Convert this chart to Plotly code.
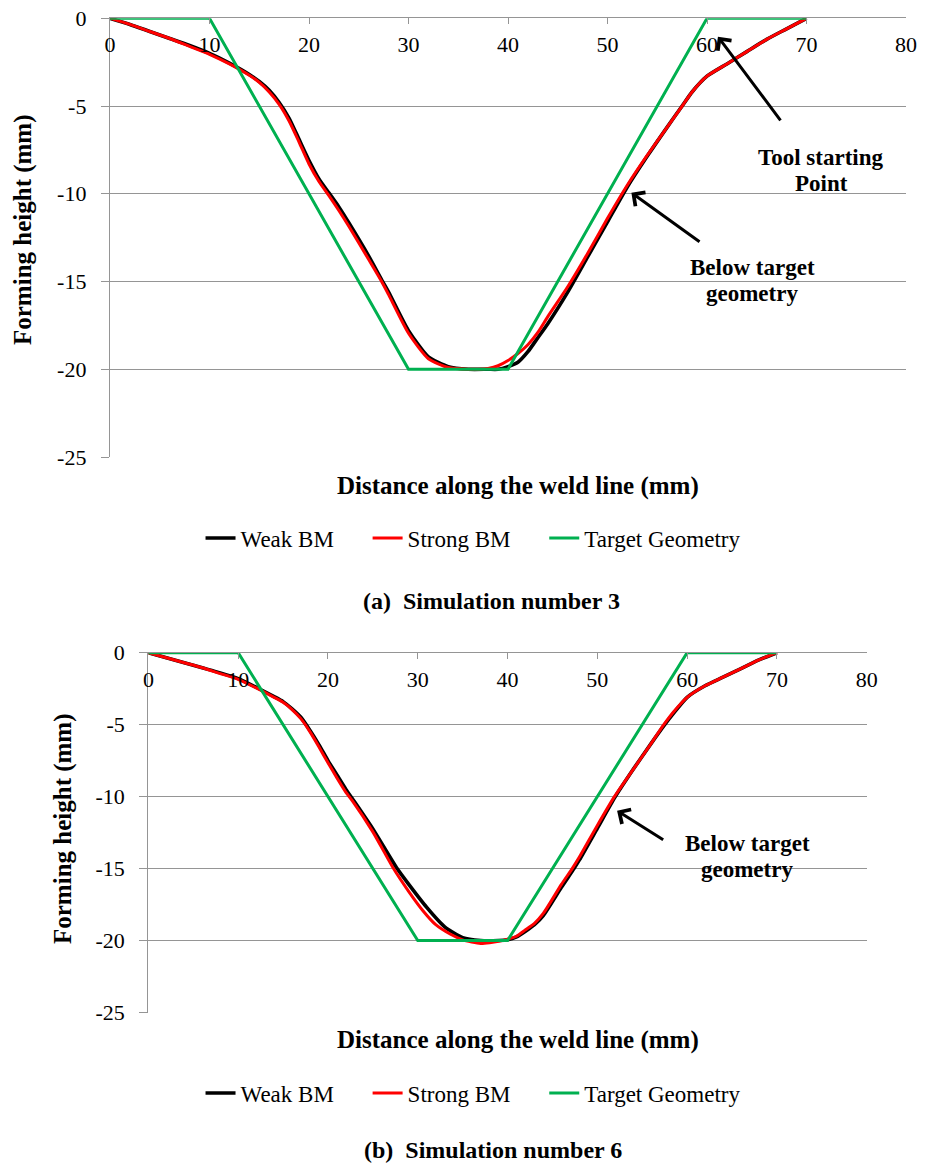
import plotly.graph_objects as go

# ---- data -------------------------------------------------------------
# Target geometry (same for both simulations)
target_x = [0, 10, 30, 40, 60, 70]
target_y = [0, 0, -20, -20, 0, 0]

# (a) Simulation number 3
sim3_weak_x = [0, 2, 4, 6, 8, 10, 12, 14, 15, 16, 17, 18, 19, 20, 21, 22, 23, 24, 26, 27.4, 28, 30, 32, 34,
               36, 38, 39, 40, 41, 42, 43, 44, 46, 48, 50, 52, 54, 56, 57.5, 58.5, 60, 62, 64, 66, 68, 70]
sim3_weak_y = [0, -0.35, -0.75, -1.15, -1.55, -2.0, -2.55, -3.2, -3.6, -4.1, -4.8, -5.7, -6.9, -8.1, -9.15,
               -9.95, -10.75, -11.65, -13.55, -15.0, -15.6, -17.8, -19.3, -19.85, -20.0, -20.0, -20.0, -19.85,
               -19.6, -19.0, -18.2, -17.4, -15.6, -13.6, -11.6, -9.6, -7.85, -6.2, -5.0, -4.2, -3.3, -2.6,
               -1.9, -1.2, -0.6, 0]
sim3_strong_x = [0, 2, 4, 6, 8, 10, 12, 14, 15, 16, 17, 18, 19, 20, 21, 22, 23, 24, 26, 27.3, 28, 30, 32, 34,
                 36, 37, 38, 39, 40, 41, 42, 43, 44, 46, 48, 50, 52, 54, 56, 57.5, 58.5, 60, 62, 64, 66, 68, 70]
sim3_strong_y = [0, -0.35, -0.75, -1.15, -1.6, -2.05, -2.6, -3.25, -3.65, -4.2, -4.9, -5.85, -7.05, -8.3,
                 -9.3, -10.1, -10.95, -11.85, -13.75, -15.0, -15.75, -17.95, -19.4, -19.9, -20.0, -20.0,
                 -19.95, -19.8, -19.5, -19.1, -18.6, -17.9, -17.0, -15.3, -13.4, -11.4, -9.5, -7.8, -6.2,
                 -5.0, -4.2, -3.3, -2.6, -1.9, -1.2, -0.6, 0]

# (b) Simulation number 6
sim6_weak_x = [0, 2, 4, 6, 8, 10, 12, 14, 15, 16, 17, 18, 19, 20, 21, 22, 23, 25, 27.7, 29, 31, 33, 35, 37,
               39, 40, 41, 42, 43, 44, 46, 47.4, 48, 50, 52, 54, 56, 57.5, 58.5, 60, 62, 64, 66, 68, 70]
sim6_weak_y = [0, -0.35, -0.7, -1.05, -1.4, -1.8, -2.4, -3.05, -3.4, -3.9, -4.5, -5.4, -6.4, -7.5, -8.5,
               -9.5, -10.4, -12.25, -15.0, -16.1, -17.7, -19.05, -19.8, -20.0, -20.0, -19.95, -19.75,
               -19.35, -18.9, -18.25, -16.3, -15.0, -14.4, -12.2, -10.0, -8.1, -6.3, -5.0, -4.2, -3.1,
               -2.3, -1.7, -1.1, -0.5, 0]
sim6_strong_x = [0, 2, 4, 6, 8, 10, 12, 14, 15, 16, 17, 18, 19, 20, 21, 22, 22.7, 25, 27.3, 29, 30.6, 32,
                 33.6, 35, 37, 38, 39, 40, 41, 42, 43, 44, 46, 47.2, 48, 50, 51.9, 54, 56, 57.4, 58.5, 60,
                 62, 64, 66, 68, 70]
sim6_strong_y = [0, -0.35, -0.7, -1.05, -1.45, -1.85, -2.45, -3.1, -3.45, -3.95, -4.6, -5.5, -6.55, -7.65,
                 -8.7, -9.7, -10.28, -12.45, -15.0, -16.6, -17.95, -18.9, -19.55, -19.95, -20.2, -20.15,
                 -20.05, -19.9, -19.7, -19.25, -18.8, -18.1, -16.1, -15.0, -14.2, -12.0, -10.0, -8.1,
                 -6.3, -5.0, -4.1, -3.1, -2.3, -1.7, -1.1, -0.5, 0]

series_names = ["Weak BM", "Strong BM", "Target Geometry"]
x_ticks = [0, 10, 20, 30, 40, 50, 60, 70, 80]
x_tick_labels = ["0", "10", "20", "30", "40", "50", "60", "70", "80"]
y_ticks = [0, -5, -10, -15, -20, -25]
y_tick_labels = ["0", "-5", "-10", "-15", "-20", "-25"]

# ---- styling ----------------------------------------------------------
SERIF = "Liberation Serif, Times New Roman, serif"
GRID = "#959595"
COLORS = ["#000000", "#ff0000", "#00b050"]
WIDTHS = [3.6, 3.0, 3.0]
NBSP = "\u00a0"

W, H = 933, 1167


def px_x(p):
    return p / W


def px_y(p):
    return 1 - p / H


fig = go.Figure()

panels = [
    ("x", "y", "legend", [(sim3_weak_x, sim3_weak_y), (sim3_strong_x, sim3_strong_y), (target_x, target_y)]),
    ("x2", "y2", "legend2", [(sim6_weak_x, sim6_weak_y), (sim6_strong_x, sim6_strong_y), (target_x, target_y)]),
]

for xa, ya, leg, series in panels:
    for i, (xs, ys) in enumerate(series):
        shape = "linear" if i == 2 else "spline"
        # a little trailing space widens the gap between legend entries
        label = series_names[i] + (NBSP * 5 if i < 2 else "")
        fig.add_trace(go.Scatter(
            x=xs, y=ys, mode="lines", name=label,
            line=dict(color=COLORS[i], width=WIDTHS[i], shape=shape, smoothing=0.6),
            xaxis=xa, yaxis=ya, legend=leg,
        ))

# horizontal axis sits on the zero line at the top, labels hang just below it
xaxis_style = dict(
    range=[0, 80], tickvals=x_ticks, ticktext=x_tick_labels, side="top", automargin=False,
    showline=True, linecolor=GRID, linewidth=1.3,
    ticks="inside", ticklen=6, tickcolor=GRID, ticklabelposition="outside", ticklabelstandoff=-44,
    showgrid=False, zeroline=False, tickfont=dict(family=SERIF, size=22, color="black"),
)
yaxis_style = dict(
    range=[-25, 0], tickvals=y_ticks, ticktext=y_tick_labels, automargin=False,
    showline=True, linecolor=GRID, linewidth=1.3,
    ticks="outside", ticklen=8, tickcolor=GRID, ticklabelstandoff=10,
    showgrid=True, gridcolor=GRID, gridwidth=1.3, zeroline=False,
    tickfont=dict(family=SERIF, size=22, color="black"),
)

legend_style = dict(orientation="h", x=0.507, xanchor="center", yanchor="middle",
                    font=dict(family=SERIF, size=23, color="black"), bgcolor="rgba(0,0,0,0)")

fig.update_layout(
    width=W, height=H, autosize=False,
    margin=dict(l=0, r=0, t=0, b=0, autoexpand=False),
    paper_bgcolor="white", plot_bgcolor="white",
    xaxis=dict(domain=[px_x(110), px_x(906)], anchor="y", **xaxis_style),
    yaxis=dict(domain=[px_y(457), px_y(18.3)], anchor="x", **yaxis_style),
    xaxis2=dict(domain=[px_x(148.4), px_x(866.7)], anchor="y2", **xaxis_style),
    yaxis2=dict(domain=[px_y(1012.5), px_y(652.7)], anchor="x2", **yaxis_style),
    legend=dict(y=px_y(538), **legend_style),
    legend2=dict(y=px_y(1093), **legend_style),
)

bold = dict(family=SERIF, color="black")

# axis titles, captions and call-out labels
text_items = [
    ("<b>Forming height (mm)</b>", px_x(23), px_y(230), 25, -90),
    ("<b>Forming height (mm)</b>", px_x(63), px_y(829), 25, -90),
    ("<b>Distance along the weld line (mm)</b>", px_x(518), px_y(486), 25, 0),
    ("<b>Distance along the weld line (mm)</b>", px_x(518), px_y(1040), 25, 0),
    ("<b>(a)  Simulation number 3</b>", px_x(492), px_y(601), 24, 0),
    ("<b>(b)  Simulation number 6</b>", px_x(493), px_y(1150), 24, 0),
    ("<b>Tool starting</b>", px_x(821), px_y(157), 23, 0),
    ("<b>Point</b>", px_x(821), px_y(183), 23, 0),
    ("<b>Below target</b>", px_x(752), px_y(267), 23, 0),
    ("<b>geometry</b>", px_x(752), px_y(293), 23, 0),
    ("<b>Below target</b>", px_x(747), px_y(843), 23, 0),
    ("<b>geometry</b>", px_x(747), px_y(869), 23, 0),
]
for txt, x, y, size, angle in text_items:
    fig.add_annotation(text=txt, x=x, y=y, xref="paper", yref="paper", showarrow=False,
                       xanchor="center", yanchor="middle", textangle=angle,
                       font=dict(size=size, **bold))

# pointer arrows (head on the curve, tail toward the label)
arrows = [
    ("x", "y", 61.1, -1.05, 67.5, -5.9),
    ("x", "y", 52.4, -9.94, 59.4, -12.8),
    ("x2", "y2", 52.2, -10.98, 57.5, -13.07),
]
for xr, yr, hx, hy, tx, ty in arrows:
    fig.add_annotation(text="", x=hx, y=hy, xref=xr, yref=yr, ax=tx, ay=ty, axref=xr, ayref=yr,
                       showarrow=True, arrowhead=4, arrowsize=1.1, arrowwidth=3, arrowcolor="black")

fig.write_html("out.html")
